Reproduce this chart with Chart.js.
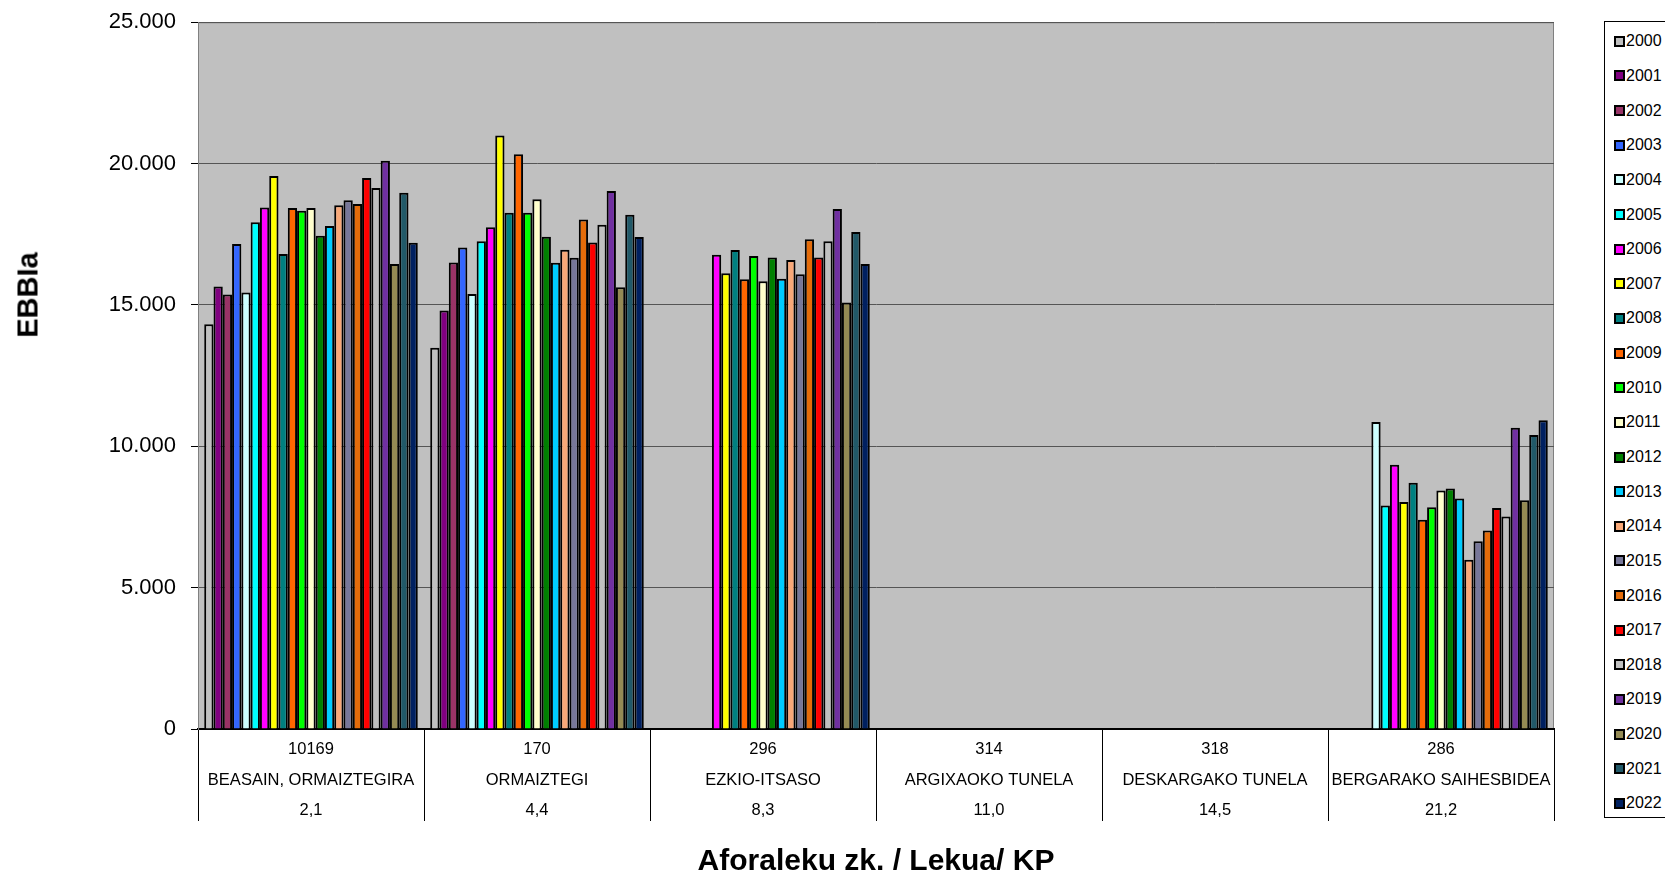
<!DOCTYPE html>
<html>
<head>
<meta charset="utf-8">
<script src="https://cdn.jsdelivr.net/npm/chart.js@4.4.0/dist/chart.umd.min.js"></script>
<style>
  html, body { margin: 0; padding: 0; background: #fff; overflow: hidden; }
  #wrap { position: relative; width: 1665px; height: 874px; font-family: 'Liberation Sans', Arial, sans-serif; }
  #ytitle {
    position: absolute; left: 28px; top: 295px;
    transform: translate(-50%, -50%) rotate(-90deg);
    font-weight: bold; font-size: 29px; color: #000; white-space: nowrap;
  }
  #legend {
    position: absolute; left: 1604px; top: 21px; width: 100px; height: 797px;
    border: 1px solid #000; background: #fff; box-sizing: border-box; padding-top: 2px;
  }
  #legend .item { height: 34.65px; display: flex; align-items: center; font-size: 16px; color: #000; }
  #legend .sw { width: 7px; height: 7px; border: 2.5px solid #000; margin-left: 9px; margin-right: 1px; }
</style>
</head>
<body>
<div id="wrap">
  <canvas id="grafico" width="1665" height="874"></canvas>
  <div id="ytitle">EBBIa</div>
  <div id="legend"></div>
</div>
<script>
const years = ['2000', '2001', '2002', '2003', '2004', '2005', '2006', '2007', '2008', '2009', '2010', '2011',
  '2012', '2013', '2014', '2015', '2016', '2017', '2018', '2019', '2020', '2021', '2022'];
const colors = ['#C0C0C0', '#800080', '#993366', '#3366FF', '#CCFFFF', '#00FFFF', '#FF00FF', '#FFFF00',
  '#008080', '#FF6600', '#00FF00', '#FFFFCC', '#008000', '#00CCFF', '#F8A878', '#777799',
  '#E46C0A', '#FF0000', '#C0C0C0', '#7030A0', '#948A54', '#215968', '#002060'];

const codes = ['10169', '170', '296', '314', '318', '286'];
const places = ['BEASAIN, ORMAIZTEGIRA', 'ORMAIZTEGI', 'EZKIO-ITSASO', 'ARGIXAOKO TUNELA', 'DESKARGAKO TUNELA', 'BERGARAKO SAIHESBIDEA'];
const kps = ['2,1', '4,4', '8,3', '11,0', '14,5', '21,2'];

// EBBIa per year (2000..2022) at each station
const beasain = [14320, 15650, 15370, 17160, 15440, 17930, 18450, 19560, 16800, 18430, 18330, 18430,
  17450, 17790, 18530, 18700, 18570, 19490, 19140, 20100, 16450, 18970, 17200];
const ormaiztegi = [13490, 14800, 16500, 17030, 15390, 17250, 17750, 20990, 18260, 20330, 18260, 18740,
  17410, 16490, 16950, 16670, 18020, 17210, 17840, 19030, 15630, 18190, 17400];
const ezkioItsaso = [null, null, null, null, null, null, 16780, 16120, 16940, 15910, 16730, 15840,
  16680, 15930, 16590, 16090, 17320, 16680, 17250, 18390, 15090, 17580, 16450];
const argixaoTunela = [null, null, null, null, null, null, null, null, null, null, null, null,
  null, null, null, null, null, null, null, null, null, null, null];
const deskargaTunela = [null, null, null, null, null, null, null, null, null, null, null, null,
  null, null, null, null, null, null, null, null, null, null, null];
const bergaraSaihesbidea = [null, null, null, null, 10860, 7910, 9350, 8030, 8710, 7400, 7840, 8440,
  8510, 8150, 5990, 6640, 7020, 7820, 7520, 10660, 8090, 10400, 10920];

const stations = [beasain, ormaiztegi, ezkioItsaso, argixaoTunela, deskargaTunela, bergaraSaihesbidea];
const labels = codes.map((c, i) => [c, places[i], kps[i]]);

const datasets = years.map((y, i) => ({
  label: y,
  data: stations.map(s => s[i]),
  backgroundColor: colors[i],
  borderColor: '#000',
  borderWidth: 2
}));

const fondo = {
  id: 'fondo',
  beforeDraw(chart) {
    const {ctx, chartArea: a} = chart;
    ctx.save();
    ctx.fillStyle = '#fff';
    ctx.fillRect(0, 0, chart.width, chart.height);
    ctx.fillStyle = '#C0C0C0';
    ctx.fillRect(a.left, a.top, a.right - a.left, a.bottom - a.top);
    ctx.strokeStyle = '#808080';
    ctx.lineWidth = 1;
    ctx.strokeRect(a.left + 0.5, a.top + 0.5, a.right - a.left - 1, a.bottom - a.top);
    ctx.restore();
  }
};

const fmt = v => String(v).replace(/\B(?=(\d{3})+(?!\d))/g, '.');

new Chart(document.getElementById('grafico').getContext('2d'), {
  type: 'bar',
  data: { labels: labels, datasets: datasets },
  options: {
    responsive: false,
    animation: false,
    devicePixelRatio: 1,
    layout: { padding: { left: 0, right: 111, top: 0, bottom: 0 } },
    datasets: { bar: { categoryPercentage: 0.945, barPercentage: 1 } },
    plugins: { legend: { display: false }, tooltip: { enabled: false } },
    scales: {
      x: {
        afterFit: s => { s.height = 145; },
        grid: { offset: true, drawOnChartArea: false, color: '#000', lineWidth: 1, tickLength: 92 },
        border: { display: true, color: '#000', width: 2 },
        ticks: {
          padding: -87,
          color: '#000',
          font: { family: "'Liberation Sans', Arial, sans-serif", size: 16.5, lineHeight: 1.86 },
          maxRotation: 0, autoSkip: false
        },
        title: {
          display: true,
          text: 'Aforaleku zk. / Lekua/ KP',
          color: '#000',
          padding: { top: 0, bottom: 0 },
          font: { family: "'Liberation Sans', Arial, sans-serif", size: 30, weight: 'bold', lineHeight: 0.8 }
        }
      },
      y: {
        min: 0,
        max: 25000,
        afterFit: s => { s.width = 198; },
        grid: { color: '#555', lineWidth: 1, tickLength: 7, tickColor: '#000' },
        border: { display: true, color: '#808080', width: 1 },
        ticks: {
          stepSize: 5000,
          padding: 15,
          color: '#000',
          font: { family: "'Liberation Sans', Arial, sans-serif", size: 22, lineHeight: 0.66 },
          callback: v => fmt(v)
        }
      }
    }
  },
  plugins: [fondo]
});

const leyenda = document.getElementById('legend');
years.forEach((y, i) => {
  const it = document.createElement('div');
  it.className = 'item';
  it.innerHTML = '<span class="sw" style="background:' + colors[i] + '"></span><span>' + y + '</span>';
  leyenda.appendChild(it);
});
</script>
</body>
</html>
